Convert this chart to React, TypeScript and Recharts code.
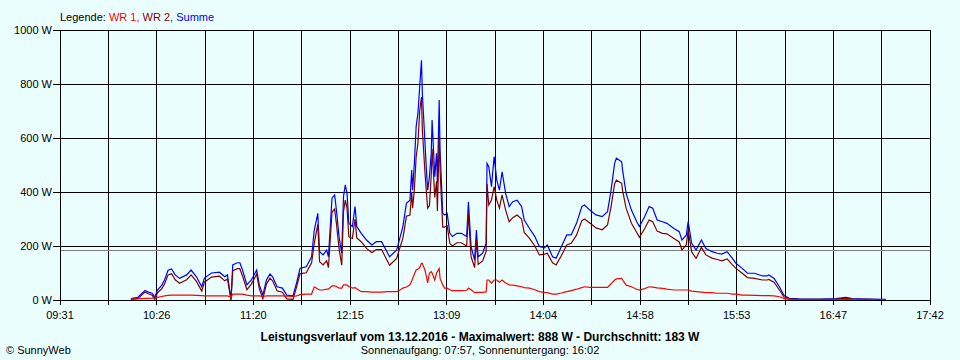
import { CartesianGrid, Line, LineChart, ReferenceLine, XAxis, YAxis } from "recharts";

// minutes since midnight, 13.12.2016
const MINUTE = [
  611, 615, 619, 620.5, 623, 624.5, 626, 628.5, 630, 632, 634, 636, 638.5, 642.5, 645, 648, 651, 652.5, 656.5, 661,
  664, 665.5, 667.5, 668.5, 671, 672.5, 674, 676.5, 679, 682, 683.5, 685.5, 687.5, 689.5, 691, 693.5, 696.5, 699, 702.5, 704.5,
  706.5, 710, 713, 714.5, 716.5, 717.5, 719.5, 721.5, 722.5, 724.5, 726, 727, 728.5, 730, 731, 732, 733, 734, 736, 737.5,
  738.5, 741, 744, 747, 749.5, 752.5, 755.5, 757, 761, 762.5, 764.5, 766.5, 768.5, 769.5, 770, 771, 772, 773, 774, 775,
  775.5, 777, 778, 778.5, 779.5, 780.5, 781, 782.5, 783.5, 784, 785, 785.5, 787, 788, 789.5, 791, 792.5, 795, 797.5, 800.5,
  801.5, 803, 805, 806, 807, 809.5, 811.5, 812, 813, 814.5, 816, 817.5, 819, 820.5, 822.5, 824.5, 826.5, 829, 831.5, 833,
  836, 839, 841.5, 844.5, 846, 849, 851, 854, 857, 859.5, 862.5, 865.5, 867, 870, 873.5, 877, 880, 882, 884, 885,
  888, 888.5, 890.5, 893.5, 896.5, 898, 901, 903.5, 905.5, 908, 911, 913.5, 917.5, 920.5, 922, 924.5, 925.5, 927.5, 930, 933,
  935.5, 939, 942, 944.5, 947.5, 950.5, 952.5, 956, 959, 963, 967.5, 970, 971, 974, 977, 979.5, 982.5, 988, 999.5, 1009,
  1014.5, 1018, 1027.5, 1037,
];

const WR1 = [
  2, 4, 6, 6, 7, 8, 10, 13, 15, 17, 18, 18, 18, 18, 18, 17, 16, 15, 15, 15,
  15, 15, 10, 22, 22, 22, 22, 18, 15, 15, 15, 13, 15, 15, 15, 15, 15, 14, 13, 15,
  20, 22, 22, 49, 41, 37, 37, 40, 40, 52, 52, 50, 44, 44, 56, 56, 55, 50, 44, 46,
  42, 31, 31, 29, 29, 29, 31, 31, 31, 35, 44, 48, 56, 70, 80, 96, 111, 115, 120, 136,
  135, 110, 80, 63, 100, 105, 100, 74, 99, 105, 117, 80, 56, 44, 44, 38, 35, 35, 35, 36,
  44, 38, 27, 28, 28, 28, 30, 74, 74, 63, 74, 74, 66, 74, 63, 56, 55, 52, 49, 46,
  44, 38, 31, 28, 27, 22, 22, 26, 31, 35, 40, 46, 49, 47, 47, 47, 47, 60, 74, 78,
  80, 75, 55, 49, 40, 37, 42, 49, 48, 45, 43, 40, 37, 37, 37, 37, 37, 33, 31, 29,
  27, 27, 25, 25, 25, 22, 22, 18, 18, 17, 16, 16, 16, 15, 12, 6, 2, 1, 1, 1,
  2, 1, 1, 0,
];

const WR2 = [
  3, 6, 29, 24, 18, 2, 27, 42, 59, 93, 97, 75, 62, 75, 93, 69, 33, 66, 85, 88,
  71, 78, 0, 108, 116, 116, 89, 38, 59, 96, 41, 5, 59, 81, 71, 34, 29, 4, 2, 48,
  98, 101, 138, 210, 280, 142, 130, 145, 120, 325, 337, 283, 190, 129, 327, 370, 340, 234, 228, 300,
  230, 216, 191, 175, 187, 187, 148, 129, 154, 187, 228, 310, 315, 400, 340, 410, 530, 580, 700, 752,
  630, 470, 380, 340, 350, 460, 560, 380, 440, 330, 610, 480, 270, 270, 275, 210, 200, 212, 212, 200,
  320, 160, 120, 225, 132, 145, 180, 430, 352, 370, 420, 370, 340, 389, 333, 290, 305, 315, 300, 250,
  228, 200, 167, 170, 173, 138, 130, 165, 204, 210, 240, 294, 300, 285, 267, 260, 278, 346, 430, 444,
  432, 405, 340, 284, 250, 232, 265, 296, 290, 255, 247, 245, 228, 215, 185, 205, 259, 178, 154, 195,
  167, 155, 150, 145, 152, 130, 117, 99, 83, 80, 74, 74, 76, 66, 37, 12, 4, 2, 2, 3,
  7, 3, 2, 1,
];

const SUMME = [
  5, 10, 35, 30, 25, 10, 37, 55, 74, 110, 115, 93, 80, 93, 111, 86, 49, 81, 100, 103,
  86, 93, 2, 130, 138, 138, 111, 56, 74, 111, 56, 18, 74, 96, 86, 49, 44, 18, 15, 63,
  118, 123, 160, 259, 321, 179, 167, 185, 160, 377, 389, 333, 234, 173, 383, 426, 395, 284, 272, 346,
  272, 247, 222, 204, 216, 216, 179, 160, 185, 222, 272, 358, 370, 481, 407, 506, 642, 691, 790, 888,
  765, 580, 457, 407, 457, 543, 667, 457, 543, 432, 741, 556, 321, 315, 321, 247, 235, 247, 247, 235,
  364, 198, 148, 259, 160, 173, 210, 506, 494, 420, 531, 444, 407, 475, 395, 346, 364, 370, 346, 296,
  265, 235, 198, 193, 204, 160, 155, 198, 241, 241, 284, 346, 352, 333, 315, 309, 327, 407, 506, 525,
  512, 481, 395, 333, 290, 272, 309, 346, 340, 296, 290, 284, 265, 253, 222, 241, 290, 210, 185, 222,
  191, 179, 173, 170, 179, 154, 136, 117, 99, 99, 89, 89, 93, 80, 49, 18, 6, 4, 3, 5,
  10, 5, 3, 2,
];

const X_LABELS = ["09:31", "10:26", "11:20", "12:15", "13:09", "14:04", "14:58", "15:53", "16:47", "17:42"];
const Y_TICKS = [0, 200, 400, 600, 800, 1000];
const AVERAGE = 183;

const START = 571;
const END = 1062;
const STEP = (END - START) / 18;
const X_TICKS = Array.from({ length: 19 }, (_, i) => START + i * STEP);

const rows = MINUTE.map((t, i) => ({ t, wr1: WR1[i], wr2: WR2[i], summe: SUMME[i] }));

const BG = "#EAFEFE";
const FONT = '"Liberation Sans", Arial, sans-serif';

function xLabel(v: number) {
  const i = Math.round((v - START) / STEP);
  return i % 2 === 0 ? X_LABELS[i / 2] : "";
}

export default function App() {
  return (
    <div style={{ position: "absolute", left: 0, top: 0, width: 960, height: 360, background: BG, fontFamily: FONT }}>
      <LineChart width={960} height={360} data={rows} margin={{ top: 30, right: 30, bottom: 30, left: 0 }}>
        <CartesianGrid stroke="#000" strokeWidth={1} shapeRendering="crispEdges" />
        <XAxis
          dataKey="t"
          type="number"
          domain={[START, END]}
          ticks={X_TICKS}
          interval={0}
          tickFormatter={xLabel}
          height={30}
          tickSize={5}
          tickMargin={6}
          axisLine={{ stroke: "#000", shapeRendering: "crispEdges" }}
          tickLine={{ stroke: "#000", shapeRendering: "crispEdges" }}
          tick={{ fill: "#000", fontSize: 11, fontFamily: FONT }}
        />
        <YAxis
          domain={[0, 1000]}
          ticks={Y_TICKS}
          tickFormatter={(v: number) => `${v} W`}
          width={60}
          tickSize={7}
          tickMargin={1}
          axisLine={{ stroke: "#000", shapeRendering: "crispEdges" }}
          tickLine={{ stroke: "#000", shapeRendering: "crispEdges" }}
          tick={{ fill: "#000", fontSize: 11, fontFamily: FONT }}
        />
        <ReferenceLine y={AVERAGE} stroke="#808080" strokeWidth={1} shapeRendering="crispEdges" />
        <Line dataKey="summe" stroke="#0000FF" strokeWidth={1.2} dot={false} isAnimationActive={false} />
        <Line dataKey="wr2" stroke="#800000" strokeWidth={1.2} dot={false} isAnimationActive={false} />
        <Line dataKey="wr1" stroke="#FF0000" strokeWidth={1.2} dot={false} isAnimationActive={false} />
      </LineChart>

      <div style={{ position: "absolute", left: 60, top: 10, fontSize: 11, lineHeight: "14px", whiteSpace: "nowrap" }}>
        <span style={{ color: "#000" }}>Legende: </span>
        <span style={{ color: "#FF0000" }}>WR 1, </span>
        <span style={{ color: "#800000" }}>WR 2, </span>
        <span style={{ color: "#0000FF" }}>Summe</span>
      </div>

      <div style={{ position: "absolute", left: 0, width: 960, top: 330, textAlign: "center", fontSize: 12, fontWeight: "bold", lineHeight: "14px" }}>
        Leistungsverlauf vom 13.12.2016 - Maximalwert: 888 W - Durchschnitt: 183 W
      </div>
      <div style={{ position: "absolute", left: 0, width: 960, top: 343, textAlign: "center", fontSize: 11, lineHeight: "14px" }}>
        Sonnenaufgang: 07:57, Sonnenuntergang: 16:02
      </div>
      <div style={{ position: "absolute", left: 6, top: 343, fontSize: 11, lineHeight: "14px" }}>© SunnyWeb</div>
    </div>
  );
}
